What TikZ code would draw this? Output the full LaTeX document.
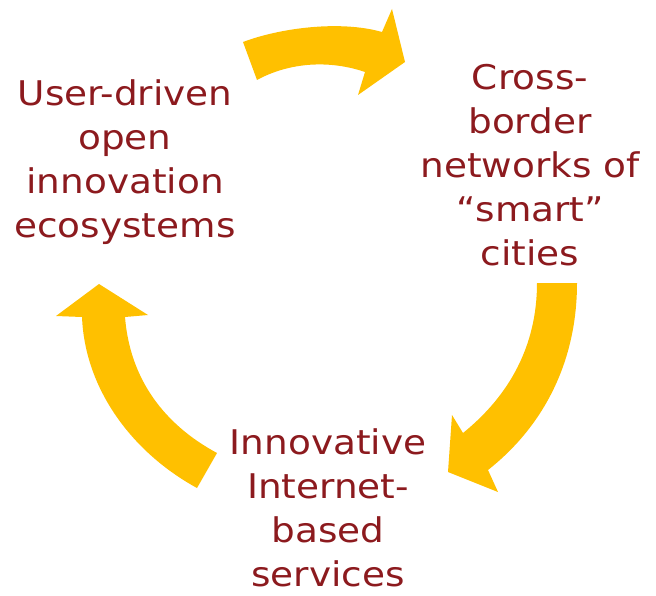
\documentclass[tikz,border=0pt]{standalone}
\usepackage{fontspec}
\setmainfont{DejaVu Sans}[FakeStretch=1.1]
\definecolor{arrowgold}{RGB}{255,192,0}
\definecolor{textred}{RGB}{140,26,30}
\begin{document}
\begin{tikzpicture}[x=1pt,y=-1pt,
  label/.style={text=textred, align=center, inner sep=0pt,
    font=\fontsize{34}{44}\selectfont},
  arrowfill/.style={fill=arrowgold}]
\useasboundingbox (0,0) rectangle (656,596);
% text blocks
\node[label] (user) at (125,162) {User-driven\\open\\innovation\\ecosystems};
\node[label] (cross) at (530,165) {Cross-\\border\\networks of\\“smart”\\cities};
\node[label] (innov) at (328,508) {Innovative\\Internet-\\based\\services};
% top arrow: user -> cross
\fill[arrowfill] (243,42) .. controls (280,28) and (340,20) .. (382,32)
  -- (392,9) -- (405,62) -- (358,95) -- (365,72)
  .. controls (330,60) and (290,62) .. (257,80) -- cycle;
% right arrow: cross -> innov
\fill[arrowfill] (537,283) -- (577,283)
  .. controls (577,360) and (545,425) .. (488,470)
  -- (498,492) -- (448,472) -- (452,415) -- (463,433)
  .. controls (510,395) and (537,345) .. (537,283) -- cycle;
% left arrow: innov -> user
\fill[arrowfill] (217,453) -- (197,488)
  .. controls (133,453) and (85,390) .. (82,317)
  -- (56,316) -- (99,284) -- (148,315) -- (125,317)
  .. controls (130,380) and (165,425) .. (217,453) -- cycle;
\end{tikzpicture}
\end{document}
